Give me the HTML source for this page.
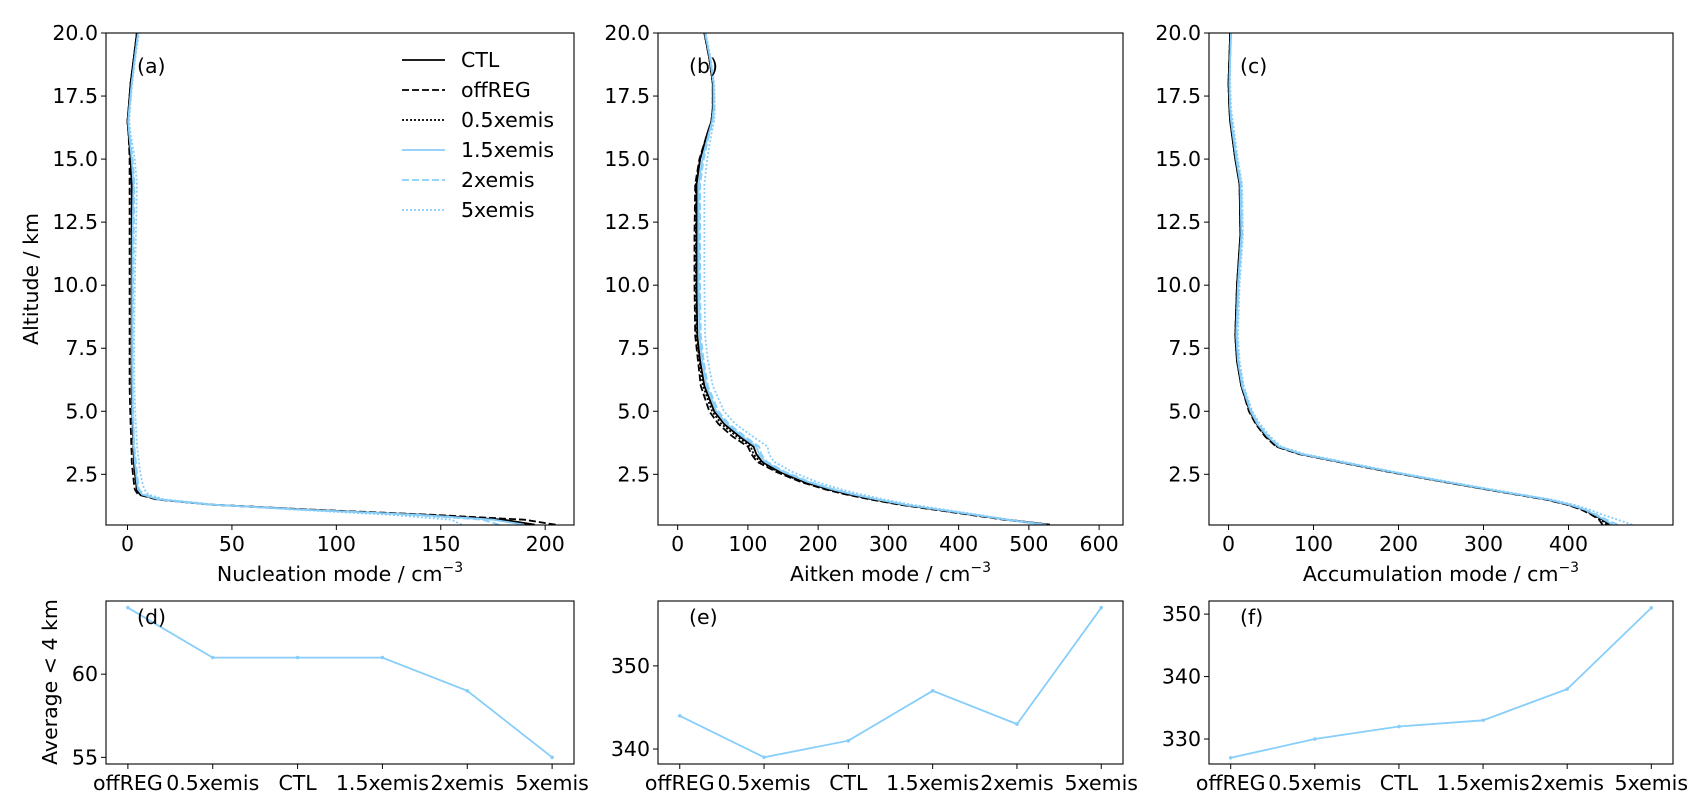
<!DOCTYPE html>
<html><head><meta charset="utf-8">
<style>
html,body{margin:0;padding:0;background:#fff;}
svg{display:block;font-family:"DejaVu Sans","Liberation Sans",sans-serif;}
</style></head>
<body>
<svg id="fig" width="1706" height="810" viewBox="0 0 1706 810" xmlns="http://www.w3.org/2000/svg"></svg>
<script>
// ---- data ----
const altitudes = [0.5,0.7,0.9,1.1,1.3,1.5,1.7,1.9,2.2,2.6,3.0,3.3,3.6,4.0,4.5,5,6,7,8,10,12,14,15,16,16.5,17,18,19,20];
const seriesNames = ["CTL","offREG","0.5xemis","1.5xemis","2xemis","5xemis"];
const ctlA = [195,180,140,85,40,15,6,4.5,4,3.5,3,3,2.8,2.7,2.5,2.3,2,2,2,2,2,2,1.5,0.5,0,0.5,1.5,3,4.5];
const offA = [205,190,145,88,40,14,5,3.5,3,2.5,2,2,1.8,1.7,1.5,1.3,1,1,1,1,1,1,1,0.5,0,0.5,1.5,3,4.5];
const halfA = [193,178,138,84,40,15,6,4.5,4,3.5,3,3,2.8,2.7,2.5,2.3,2,2,2,2,2,2,1.5,0.5,0,0.5,1.5,3,4.5];
const x15A = [190,175,138,84,40,15,7,5,4.5,4,3.5,3.3,3,2.9,2.7,2.5,2.3,2.2,2.2,2.3,2.5,2.8,2,0.8,0.3,0.8,2,3.5,5];
const x2A = [178,170,135,82,40,16,8,5.5,5,4.5,4,3.6,3.3,3.1,2.9,2.7,2.5,2.5,2.5,2.7,3,3.3,2.5,1,0.5,1,2,3.5,5];
const x5A = [160,155,125,80,42,18,10,8,7,6,5.5,5,4.6,4.3,4,3.7,3.3,3.2,3.2,3.5,4,4.5,3.5,1.5,0.8,1.2,2.3,3.8,5.5];
const ctlB = [530,470,420,370,320,280,245,215,180,145,120,112,108,88,66,52,38,32,28,27,27,27,32,42,48,50,50,45,38];
const offB = [525,465,415,365,315,275,240,210,175,140,113,105,100,78,58,45,33,29,25,24,24,25,31,42,48,50,50,45,38];
const halfB = [528,468,418,368,318,278,243,213,178,143,117,108,104,84,62,49,36,31,27,26,26,26,32,42,48,50,50,45,38];
const x15B = [525,470,422,372,323,284,250,220,185,150,124,116,112,92,70,55,41,35,31,30,30,30,35,44,49,51,51,46,39];
const x2B = [520,468,422,373,325,286,252,223,188,153,127,119,116,96,73,58,43,37,33,32,32,32,37,45,50,52,51,46,39];
const x5B = [515,470,428,380,333,295,262,233,198,163,137,130,128,107,82,66,50,43,39,38,38,38,42,48,52,53,52,47,40];
const ctlC = [448,440,430,418,400,375,340,305,255,190,130,85,58,45,33,25,15,10,8,10,14,13,8,4,2,1,0,1,2];
const offC = [440,436,427,415,398,373,338,303,253,188,128,83,56,43,32,24,15,10,8,10,14,13,8,4,2,1,0,1,2];
const halfC = [445,438,429,417,399,374,339,304,254,189,129,84,57,44,33,25,15,10,8,10,14,13,8,4,2,1,0,1,2];
const x15C = [452,442,431,419,401,376,341,306,256,191,131,86,59,46,34,26,16,11,9,11,15,14,9,5,3,2,1,2,3];
const x2C = [458,445,433,420,402,377,342,307,257,192,132,87,60,47,35,27,17,12,10,12,16,15,10,6,4,2,1,2,3];
const x5C = [475,458,440,425,406,380,345,310,260,195,135,90,62,49,37,28,18,13,11,13,17,16,11,7,5,3,2,2,3];
const categories = ["offREG","0.5xemis","CTL","1.5xemis","2xemis","5xemis"];
const avgNucleation = [64,61,61,61,59,55];
const avgAitken = [344,339,341,347,343,357];
const avgAccumulation = [327,330,332,333,338,351];
const altTicks = [2.5,5.0,7.5,10.0,12.5,15.0,17.5,20.0];
const ticksA = [0,50,100,150,200];
const ticksB = [0,100,200,300,400,500,600];
const ticksC = [0,100,200,300,400];
const ticksD = [55,60];
const ticksE = [340,350];
const ticksF = [330,340,350];

const NS="http://www.w3.org/2000/svg";
const svg=document.getElementById('fig');
function el(tag,attrs,parent){const e=document.createElementNS(NS,tag);for(const k in attrs)e.setAttribute(k,attrs[k]);(parent||svg).appendChild(e);return e;}
const BLUE="#87cefa";
const styles=[
 {c:"#000",d:""},{c:"#000",d:"7,3"},{c:"#000",d:"2,2"},
 {c:BLUE,d:""},{c:BLUE,d:"7,3"},{c:BLUE,d:"2,2"}];
const FS=20.5;

function txt(x,y,s,anchor,name,parent,size){const t=el('text',{x:x,y:y,'font-size':size||FS,'text-anchor':anchor||'middle',fill:'#000'},parent);t.textContent=s;return t;}

function profilePanel(id,L,R,xmin,xmax,xt,series,xlabel,letter){
  const T=33,B=525,ymin=0.49,ymax=20;
  const g=el('g',{});
  
  
  const sx=v=>L+(v-xmin)/(xmax-xmin)*(R-L);
  const sy=v=>T+(ymax-v)/(ymax-ymin)*(B-T);
  const clip=el('clipPath',{id:'clip'+id},g);
  el('rect',{x:L,y:T,width:R-L,height:B-T},clip);
  series.forEach((arr,i)=>{
    const pts=arr.map((v,j)=>sx(v).toFixed(1)+','+sy(altitudes[j]).toFixed(1)).join(' ');
    const p=el('polyline',{points:pts,fill:'none',stroke:styles[i].c,'stroke-width':1.8,'stroke-dasharray':styles[i].d,'clip-path':'url(#clip'+id+')','stroke-linejoin':'round'},g);
    
    
  });
  const fr=el('rect',{x:L,y:T,width:R-L,height:B-T,fill:'none',stroke:'#000','stroke-width':1.1},g);
  
  
  xt.forEach(v=>{const x=sx(v);el('line',{x1:x,x2:x,y1:B,y2:B+5,stroke:'#000'},g);txt(x,B+26,String(v),'middle','x-tick-label',g);});
  altTicks.forEach(v=>{const y=sy(v);el('line',{x1:L-5,x2:L,y1:y,y2:y,stroke:'#000'},g);txt(L-8,y+7,v.toFixed(1),'end','y-tick-label',g);});
  const xl=txt((L+R)/2,B+56,'','middle','x-axis-title',g);
  xl.innerHTML=xlabel+' / cm<tspan dy="-9" font-size="14">−3</tspan>';
  txt(L+31,T+40,letter,'start','panel-label',g);
}
profilePanel('a',106,574,-10.3,213.8,ticksA,[ctlA,offA,halfA,x15A,x2A,x5A],'Nucleation mode','(a)');
profilePanel('b',658,1123,-28,634,ticksB,[ctlB,offB,halfB,x15B,x2B,x5B],'Aitken mode','(b)');
profilePanel('c',1209,1673,-23,523,ticksC,[ctlC,offC,halfC,x15C,x2C,x5C],'Accumulation mode','(c)');

function avgPanel(id,L,R,ymin,ymax,yt,vals,letter){
  const T=601,B=764;
  const g=el('g',{});
  
  
  const sx=i=>L+(i+0.258)/(5.516)*(R-L);
  const sy=v=>T+(ymax-v)/(ymax-ymin)*(B-T);
  const pts=vals.map((v,i)=>sx(i).toFixed(1)+','+sy(v).toFixed(1)).join(' ');
  const p=el('polyline',{points:pts,fill:'none',stroke:BLUE,'stroke-width':1.8},g);
  
  
  vals.forEach((v,i)=>{const m=el('circle',{cx:sx(i),cy:sy(v),r:1.8,fill:BLUE},g);
    
    });
  const fr=el('rect',{x:L,y:T,width:R-L,height:B-T,fill:'none',stroke:'#000','stroke-width':1.1},g);
  
  
  categories.forEach((c,i)=>{const x=sx(i);el('line',{x1:x,x2:x,y1:B,y2:B+5,stroke:'#000'},g);txt(x,B+26,c,'middle','x-tick-label',g);});
  yt.forEach(v=>{const y=sy(v);el('line',{x1:L-5,x2:L,y1:y,y2:y,stroke:'#000'},g);txt(L-8,y+7,String(v),'end','y-tick-label',g);});
  txt(L+31,T+23,letter,'start','panel-label',g);
}
avgPanel('d',106,574,54.6,64.4,ticksD,avgNucleation,'(d)');
avgPanel('e',658,1123,338.2,357.8,ticksE,avgAitken,'(e)');
avgPanel('f',1209,1673,326.0,352.1,ticksF,avgAccumulation,'(f)');

// axis titles
const yt1=txt(0,0,'Altitude / km','middle','y-axis-title');
yt1.setAttribute('transform','translate(38,279) rotate(-90)');
const yt2=txt(0,0,'Average < 4 km','middle','y-axis-title-average');
yt2.setAttribute('transform','translate(57,682) rotate(-90)');

// legend
const lg=el('g',{});


seriesNames.forEach((n,i)=>{
  const y=60+i*30;
  const ln=el('line',{x1:402,x2:445,y1:y,y2:y,stroke:styles[i].c,'stroke-width':1.8,'stroke-dasharray':styles[i].d},lg);
  
  
  txt(461,y+7,n,'start','legend-entry',lg);
});
</script>
</body></html>
